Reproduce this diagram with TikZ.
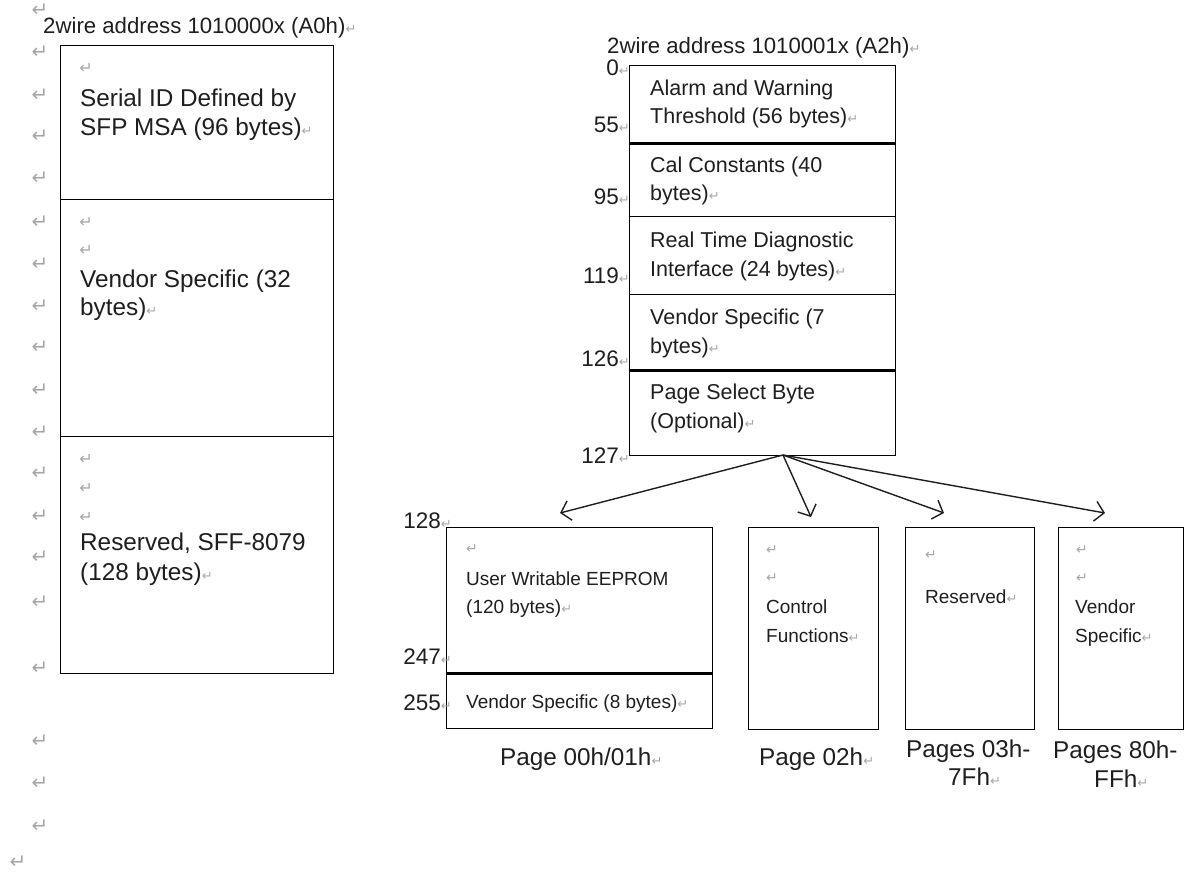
\documentclass[tikz,border=0pt]{standalone}
\usepackage{xcolor}
\usepackage{fontspec}
\setmainfont{Liberation Sans}
\newfontfamily\markfont{DejaVu Sans}
\usepackage{tikz}
\usetikzlibrary{arrows.meta}

\definecolor{inkgray}{HTML}{1E1E1E}
\definecolor{markgray}{HTML}{A6A6A6}
% paragraph mark, size in pt as optional argument
\newcommand{\pmark}[1][13]{{\color{markgray}\markfont\fontsize{#1}{#1}\selectfont ↵}}

\tikzset{
  mapbox/.style={draw, line width=1.3pt, inner sep=0pt, anchor=north west},
  thickdiv/.style={line width=2.8pt},
  bigtxt/.style={anchor=base west, inner sep=0pt, text=inkgray, font={\fontsize{24.3}{29}\selectfont}},
  midtxt/.style={anchor=base west, inner sep=0pt, text=inkgray, font={\fontsize{21.5}{27}\selectfont}},
  smalltxt/.style={anchor=base west, inner sep=0pt, text=inkgray, font={\fontsize{19}{24}\selectfont}},
  hdrtxt/.style={anchor=base west, inner sep=0pt, text=inkgray, font={\fontsize{22.2}{27}\selectfont}},
  offset/.style={anchor=base east, inner sep=0pt, text=inkgray, font={\fontsize{22.5}{27}\selectfont}},
  retcol/.style={inner sep=0pt},
  pagearrow/.style={-{Straight Barb[length=9pt,width=20pt,line width=1.4pt]}, line width=1.4pt, draw=inkgray}
}

\begin{document}
\begin{tikzpicture}[x=1pt,y=-1pt]
\useasboundingbox (0,0) rectangle (1186,873);

% paragraph marks down the left margin
\node[retcol] (top) at (40,10) {\pmark[20]};
\foreach \y [count=\k] in {52,95,136,178,222,264,306,347,390,432,473,516,557,602,668,741,783,826}
  \node[retcol] (lm\k) at (40,\y) {\pmark[20]};
\node[retcol] (bot) at (18,862) {\pmark[20]};

% A0h
\node[hdrtxt] (hdrA0) at (43,33) {2wire address 1010000x (A0h)\pmark};
\node[mapbox, minimum width=273, minimum height=154] (serial) at (60,45) {};
\node[mapbox, minimum width=273, minimum height=237] (vend32) at (60,199) {};
\node[mapbox, minimum width=273, minimum height=237] (rsv128) at (60,436) {};

\node[retcol] (s0) at (86,68) {\pmark[16]};
\node[bigtxt] (s1) at (80,106) {Serial ID Defined by};
\node[bigtxt] (s2) at (80,135) {SFP MSA (96 bytes)\pmark};
\node[retcol] (v0) at (86,222) {\pmark[16]};
\node[retcol] (v1) at (86,250) {\pmark[16]};
\node[bigtxt] (v2) at (80,287) {Vendor Specific (32};
\node[bigtxt] (v3) at (80,315) {bytes)\pmark};
\node[retcol] (r0) at (86,459) {\pmark[16]};
\node[retcol] (r1) at (86,488) {\pmark[16]};
\node[retcol] (r2) at (86,517) {\pmark[16]};
\node[bigtxt] (r3) at (80,550) {Reserved, SFF-8079};
\node[bigtxt] (r4) at (80,580) {(128 bytes)\pmark};

% A2h
\node[hdrtxt] (hdrA2) at (607,53) {2wire address 1010001x (A2h)\pmark};
\node[mapbox, minimum width=266, minimum height=77] (alarm) at (629,65) {};
\node[mapbox, minimum width=266, minimum height=74] (cal) at (629,142) {};
\node[mapbox, minimum width=266, minimum height=78] (rtd) at (629,216) {};
\node[mapbox, minimum width=266, minimum height=75] (vend7) at (629,294) {};
\node[mapbox, minimum width=266, minimum height=86] (psel) at (629,369) {};
\draw[thickdiv] (alarm.south west) -- (alarm.south east);
\draw[thickdiv] (vend7.south west) -- (vend7.south east);

\node[offset] (o0) at (630,75) {0\pmark};
\node[offset] (o55) at (630,132) {55\pmark};
\node[offset] (o95) at (630,204) {95\pmark};
\node[offset] (o119) at (630,283) {119\pmark};
\node[offset] (o126) at (630,366) {126\pmark};
\node[offset] (o127) at (630,463) {127\pmark};

\node[midtxt] (a1) at (650,95) {Alarm and Warning};
\node[midtxt] (a2) at (650,123) {Threshold (56 bytes)\pmark};
\node[midtxt] (c1) at (650,172) {Cal Constants (40};
\node[midtxt] (c2) at (650,200) {bytes)\pmark};
\node[midtxt] (d1) at (650,247) {Real Time Diagnostic};
\node[midtxt] (d2) at (650,276) {Interface (24 bytes)\pmark};
\node[midtxt] (e1) at (650,324) {Vendor Specific (7};
\node[midtxt] (e2) at (650,353) {bytes)\pmark};
\node[midtxt] (p1) at (650,399) {Page Select Byte};
\node[midtxt] (p2) at (650,428) {(Optional)\pmark};

% pages behind the select byte
\node[mapbox, minimum width=266, minimum height=145] (user) at (446,527) {};
\node[mapbox, minimum width=266, minimum height=56] (vend8) at (446,672) {};
\draw[thickdiv] (user.south west) -- (user.south east);
\node[mapbox, minimum width=130, minimum height=202] (ctrl) at (748,527) {};
\node[mapbox, minimum width=129, minimum height=202] (rsvd) at (905,527) {};
\node[mapbox, minimum width=125, minimum height=202] (vspec) at (1058,527) {};

\node[offset] (o128) at (452,528) {128\pmark};
\node[offset] (o247) at (452,664) {247\pmark};
\node[offset] (o255) at (452,710) {255\pmark};

\node[retcol] (u0) at (472,549) {\pmark[14]};
\node[smalltxt] (u1) at (466,585) {User Writable EEPROM};
\node[smalltxt] (u2) at (466,613) {(120 bytes)\pmark};
\node[smalltxt] (u3) at (466,708) {Vendor Specific (8 bytes)\pmark};

\node[retcol] (k0) at (772,550) {\pmark[14]};
\node[retcol] (k1) at (772,578) {\pmark[14]};
\node[smalltxt] (k2) at (766,613) {Control};
\node[smalltxt] (k3) at (766,642) {Functions\pmark};

\node[retcol] (q0) at (931,555) {\pmark[14]};
\node[smalltxt] (q1) at (925,603) {Reserved\pmark};

\node[retcol] (w0) at (1082,550) {\pmark[14]};
\node[retcol] (w1) at (1082,578) {\pmark[14]};
\node[smalltxt] (w2) at (1075,613) {Vendor};
\node[smalltxt] (w3) at (1075,642) {Specific\pmark};

\node[bigtxt] (cap0) at (500,765) {Page 00h/01h\pmark};
\node[bigtxt] (cap2) at (759,765) {Page 02h\pmark};
\node[bigtxt] (cap3a) at (906,757) {Pages 03h-};
\node[bigtxt] (cap3b) at (948,785) {7Fh\pmark};
\node[bigtxt] (cap8a) at (1053,758) {Pages 80h-};
\node[bigtxt] (cap8b) at (1094,787) {FFh\pmark};

% arrows from the page select byte
\coordinate (hub) at (783,455);
\coordinate (tip0) at (560,513);
\coordinate (tip2) at (811,517);
\coordinate (tip3) at (944,513);
\coordinate (tip8) at (1105,513);
\draw[pagearrow] (hub) -- (tip0);
\draw[pagearrow] (hub) -- (tip2);
\draw[pagearrow] (hub) -- (tip3);
\draw[pagearrow] (hub) -- (tip8);
\end{tikzpicture}
\end{document}
